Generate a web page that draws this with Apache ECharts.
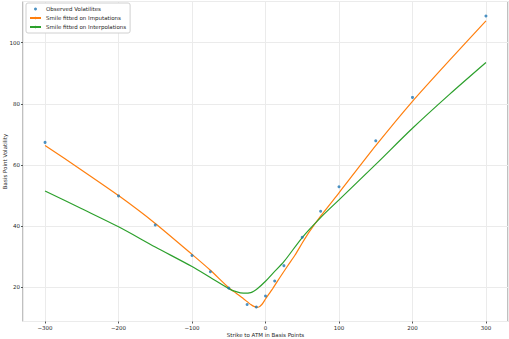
<!DOCTYPE html>
<html>
<head>
<meta charset="utf-8">
<script src="https://cdn.jsdelivr.net/npm/echarts@6/dist/echarts.min.js"></script>
<style>
  html, body { margin: 0; padding: 0; background: #fff; }
  #chart { width: 509px; height: 339px; }
</style>
</head>
<body>
<div id="chart"></div>
<script>
// observed volatilities (strike to ATM in bp, normal vol in bp)
var obsStrikes = [-300, -200, -150, -100, -75, -50, -25, -12.5, 0, 12.5, 25, 50, 75, 100, 150, 200, 300]
var obsVols = [67.4, 49.9, 40.4, 30.4, 25.1, 19.8, 14.4, 13.6, 17.2, 22.1, 27.1, 36.4, 44.9, 52.9, 67.9, 82.1, 108.7]

// smile fitted on imputations
var impStrikes = [-300, -250, -200, -150, -100, -75, -50, -40, -30, -20, -15, -10, -5, 0, 10, 20, 30, 40, 50, 60, 75, 100, 150, 200, 250, 300]
var impVols = [66.4, 58.3, 50.0, 40.9, 30.8, 25.6, 19.9, 18.1, 16.3, 14.4, 13.7, 13.5, 14.4, 16.2, 19.7, 23.4, 27.0, 30.5, 34.5, 38.3, 43.3, 50.9, 66.3, 80.8, 94.1, 107.1]

// smile fitted on interpolations
var intStrikes = [-300, -250, -200, -150, -100, -75, -50, -40, -30, -20, -10, 0, 10, 25, 50, 75, 100, 150, 200, 250, 300]
var intVols = [51.5, 45.7, 39.8, 33.2, 26.8, 23.2, 19.6, 18.6, 18.1, 18.3, 19.8, 22.0, 24.6, 28.4, 36.3, 42.8, 48.6, 60.2, 72.0, 83.0, 93.5]

function pairs(xs, ys) {
  return xs.map(function (x, i) { return [x, ys[i]] })
}

var chart = echarts.init(document.getElementById('chart'), null, { renderer: 'svg' })

var labelStyle = {
  color: '#262626',
  fontSize: 5.5,
  fontFamily: 'DejaVu Sans'
}

chart.setOption({
  animation: false,
  grid: {
    left: 23,
    right: 1,
    top: 1.5,
    bottom: 17.5,
    outerBoundsMode: 'none',
    containLabel: false,
    show: true,
    borderColor: '#808080',
    borderWidth: 1
  },
  legend: {
    orient: 'vertical',
    left: 26,
    top: 3,
    padding: [2, 4, 2, 3],
    itemWidth: 11,
    itemHeight: 3,
    itemGap: 1,
    backgroundColor: '#fff',
    borderColor: '#d0d0d0',
    borderWidth: 1,
    borderRadius: 2,
    textStyle: {
      color: '#262626',
      fontSize: 5.5,
      fontFamily: 'DejaVu Sans',
      lineHeight: 8
    },
    data: [
      { name: 'Observed Volatilites', icon: 'circle' },
      { name: 'Smile fitted on Imputations' },
      { name: 'Smile fitted on Interpolations' }
    ]
  },
  xAxis: {
    type: 'value',
    min: -330,
    max: 330,
    name: 'Strike to ATM in Basis Points',
    nameLocation: 'middle',
    nameGap: 10,
    nameMoveOverlap: false,
    nameTextStyle: labelStyle,
    axisLine: { show: false, onZero: false },
    axisTick: {
      show: true,
      length: 2,
      lineStyle: { color: '#555' }
    },
    axisLabel: Object.assign({
      margin: 3,
      showMinLabel: false,
      showMaxLabel: false,
      formatter: function (v) { return v < 0 ? '\u2212' + Math.abs(v) : String(v) }
    }, labelStyle),
    splitLine: {
      show: true,
      lineStyle: { color: '#ebebeb', width: 1 }
    }
  },
  yAxis: {
    type: 'value',
    min: 8.85,
    max: 113.45,
    splitNumber: 5,
    name: 'Basis Point Volatility',
    nameLocation: 'middle',
    nameGap: 15,
    nameMoveOverlap: false,
    nameTextStyle: labelStyle,
    axisLine: { show: false, onZero: false },
    axisTick: {
      show: true,
      length: 2,
      lineStyle: { color: '#555' }
    },
    axisLabel: Object.assign({
      margin: 3,
      showMinLabel: false,
      showMaxLabel: false
    }, labelStyle),
    splitLine: {
      show: true,
      lineStyle: { color: '#ebebeb', width: 1 }
    }
  },
  series: [
    {
      name: 'Observed Volatilites',
      type: 'scatter',
      symbol: 'circle',
      symbolSize: 3,
      z: 5,
      itemStyle: { color: '#1f77b4' },
      data: pairs(obsStrikes, obsVols)
    },
    {
      name: 'Smile fitted on Imputations',
      type: 'line',
      symbol: 'none',
      smooth: 0.2,
      itemStyle: { color: '#ff7f0e' },
      lineStyle: { width: 1.2, color: '#ff7f0e' },
      data: pairs(impStrikes, impVols)
    },
    {
      name: 'Smile fitted on Interpolations',
      type: 'line',
      symbol: 'none',
      smooth: 0.3,
      itemStyle: { color: '#2ca02c' },
      lineStyle: { width: 1.2, color: '#2ca02c' },
      data: pairs(intStrikes, intVols)
    }
  ]
})
</script>
</body>
</html>
